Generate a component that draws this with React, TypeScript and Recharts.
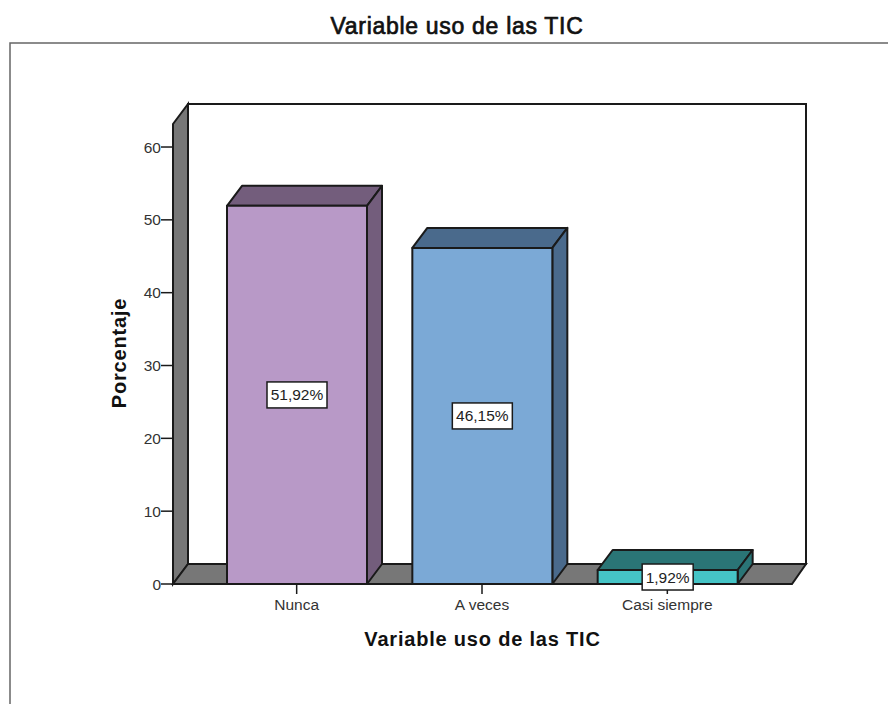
import React from "react";
import {
  BarChart,
  Bar,
  Cell,
  XAxis,
  YAxis,
  LabelList,
  Label,
  usePlotArea,
} from "recharts";

const categories = ["Nunca", "A veces", "Casi siempre"];
const percentages = [51.92, 46.15, 1.92];
const percentLabels = ["51,92%", "46,15%", "1,92%"];
const yTicks = [0, 10, 20, 30, 40, 50, 60];

const chartData = categories.map((name, i) => ({
  name,
  value: percentages[i],
  label: percentLabels[i],
}));

const frontColors = ["#B899C7", "#7BA9D6", "#45C4C6"];
const shadeColors = ["#735D7C", "#4A6A8C", "#2A7576"];

const FONT = "'Liberation Sans', Arial, sans-serif";
const DEPTH_X = 15;
const DEPTH_Y = 20;
const INK = "#1a1a1a";

const Walls = () => {
  const plot = usePlotArea();
  if (!plot) return null;
  const { x, y, width, height } = plot;
  const right = x + width;
  const bottom = y + height;
  return (
    <g>
      <path d="M10 704V43H888" fill="none" stroke="#666" strokeWidth={1.5} />
      <rect
        x={x + DEPTH_X}
        y={y - DEPTH_Y}
        width={width - 1}
        height={height}
        fill="#fff"
        stroke={INK}
        strokeWidth={2}
      />
      <polygon
        points={`${x},${y} ${x + DEPTH_X},${y - DEPTH_Y} ${x + DEPTH_X},${bottom - DEPTH_Y} ${x},${bottom}`}
        fill="#777"
        stroke={INK}
        strokeWidth={2}
      />
      <polygon
        points={`${x},${bottom} ${x + DEPTH_X},${bottom - DEPTH_Y} ${right + DEPTH_X - 1},${bottom - DEPTH_Y} ${right},${bottom}`}
        fill="#777"
        stroke={INK}
        strokeWidth={2}
      />
    </g>
  );
};

const Box3D = (props: any) => {
  const { x, y, width, height, index } = props;
  const r = x + width;
  const shade = shadeColors[index];
  return (
    <g stroke={INK} strokeWidth={2} strokeLinejoin="round">
      <polygon
        points={`${x},${y} ${x + DEPTH_X},${y - DEPTH_Y} ${r + DEPTH_X},${y - DEPTH_Y} ${r},${y}`}
        fill={shade}
      />
      <polygon
        points={`${r},${y} ${r + DEPTH_X},${y - DEPTH_Y} ${r + DEPTH_X},${y + height - DEPTH_Y} ${r},${y + height}`}
        fill={shade}
      />
      <rect x={x} y={y} width={width} height={height} fill={frontColors[index]} />
    </g>
  );
};

const ValueBox = (props: any) => {
  const { x, y, width, height, value } = props;
  const cx = x + width / 2;
  const cy = y + height / 2;
  const boxWidth = String(value).length * 9 + 6;
  return (
    <g>
      <rect
        x={cx - boxWidth / 2}
        y={cy - 13}
        width={boxWidth}
        height={26}
        fill="#fff"
        stroke={INK}
        strokeWidth={1.5}
      />
      <text x={cx} y={cy + 5.5} textAnchor="middle" fontSize={15.5} fontFamily={FONT} fill="#222">
        {value}
      </text>
    </g>
  );
};

export default function App() {
  return (
    <div style={{ position: "absolute", left: 0, top: 0, width: 888, height: 704 }}>
      <BarChart
        width={888}
        height={704}
        data={chartData}
        margin={{ top: 124, right: 96, bottom: 60, left: 113 }}
      >
        <Walls />
        <text
          x={457}
          y={34}
          textAnchor="middle"
          fontSize={23}
          fontFamily={FONT}
          fill="#111"
          stroke="#111"
          strokeWidth={0.7}
          letterSpacing={0.7}
        >
          Variable uso de las TIC
        </text>
        <XAxis
          dataKey="name"
          axisLine={false}
          tickSize={10}
          tickLine={{ stroke: INK, strokeWidth: 1.5 }}
          padding={{ left: 31, right: 32 }}
          interval={0}
          tick={{ fill: "#333", fontSize: 15.5, fontFamily: FONT, dy: 3 }}
          height={60}
        >
          <Label
            value="Variable uso de las TIC"
            position="insideTop"
            offset={48}
            style={{ fontSize: 20, fontWeight: "bold", fontFamily: FONT, fill: "#111", letterSpacing: 0.8 }}
          />
        </XAxis>
        <YAxis
          type="number"
          domain={[0, 63.16]}
          ticks={yTicks}
          width={60}
          axisLine={false}
          tickSize={12}
          tickMargin={0}
          tickLine={{ stroke: INK, strokeWidth: 1.5 }}
          tick={{ fill: "#333", fontSize: 15.5, fontFamily: FONT }}
        >
          <Label
            value="Porcentaje"
            angle={-90}
            position="center"
            dx={-24}
            dy={-1}
            style={{ fontSize: 20, fontWeight: "bold", fontFamily: FONT, fill: "#111", letterSpacing: 0.8 }}
          />
        </YAxis>
        <Bar dataKey="value" barSize={140} shape={<Box3D />} isAnimationActive={false}>
          {chartData.map((_, i) => (
            <Cell key={i} fill={frontColors[i]} />
          ))}
          <LabelList dataKey="label" content={<ValueBox />} />
        </Bar>
      </BarChart>
    </div>
  );
}
